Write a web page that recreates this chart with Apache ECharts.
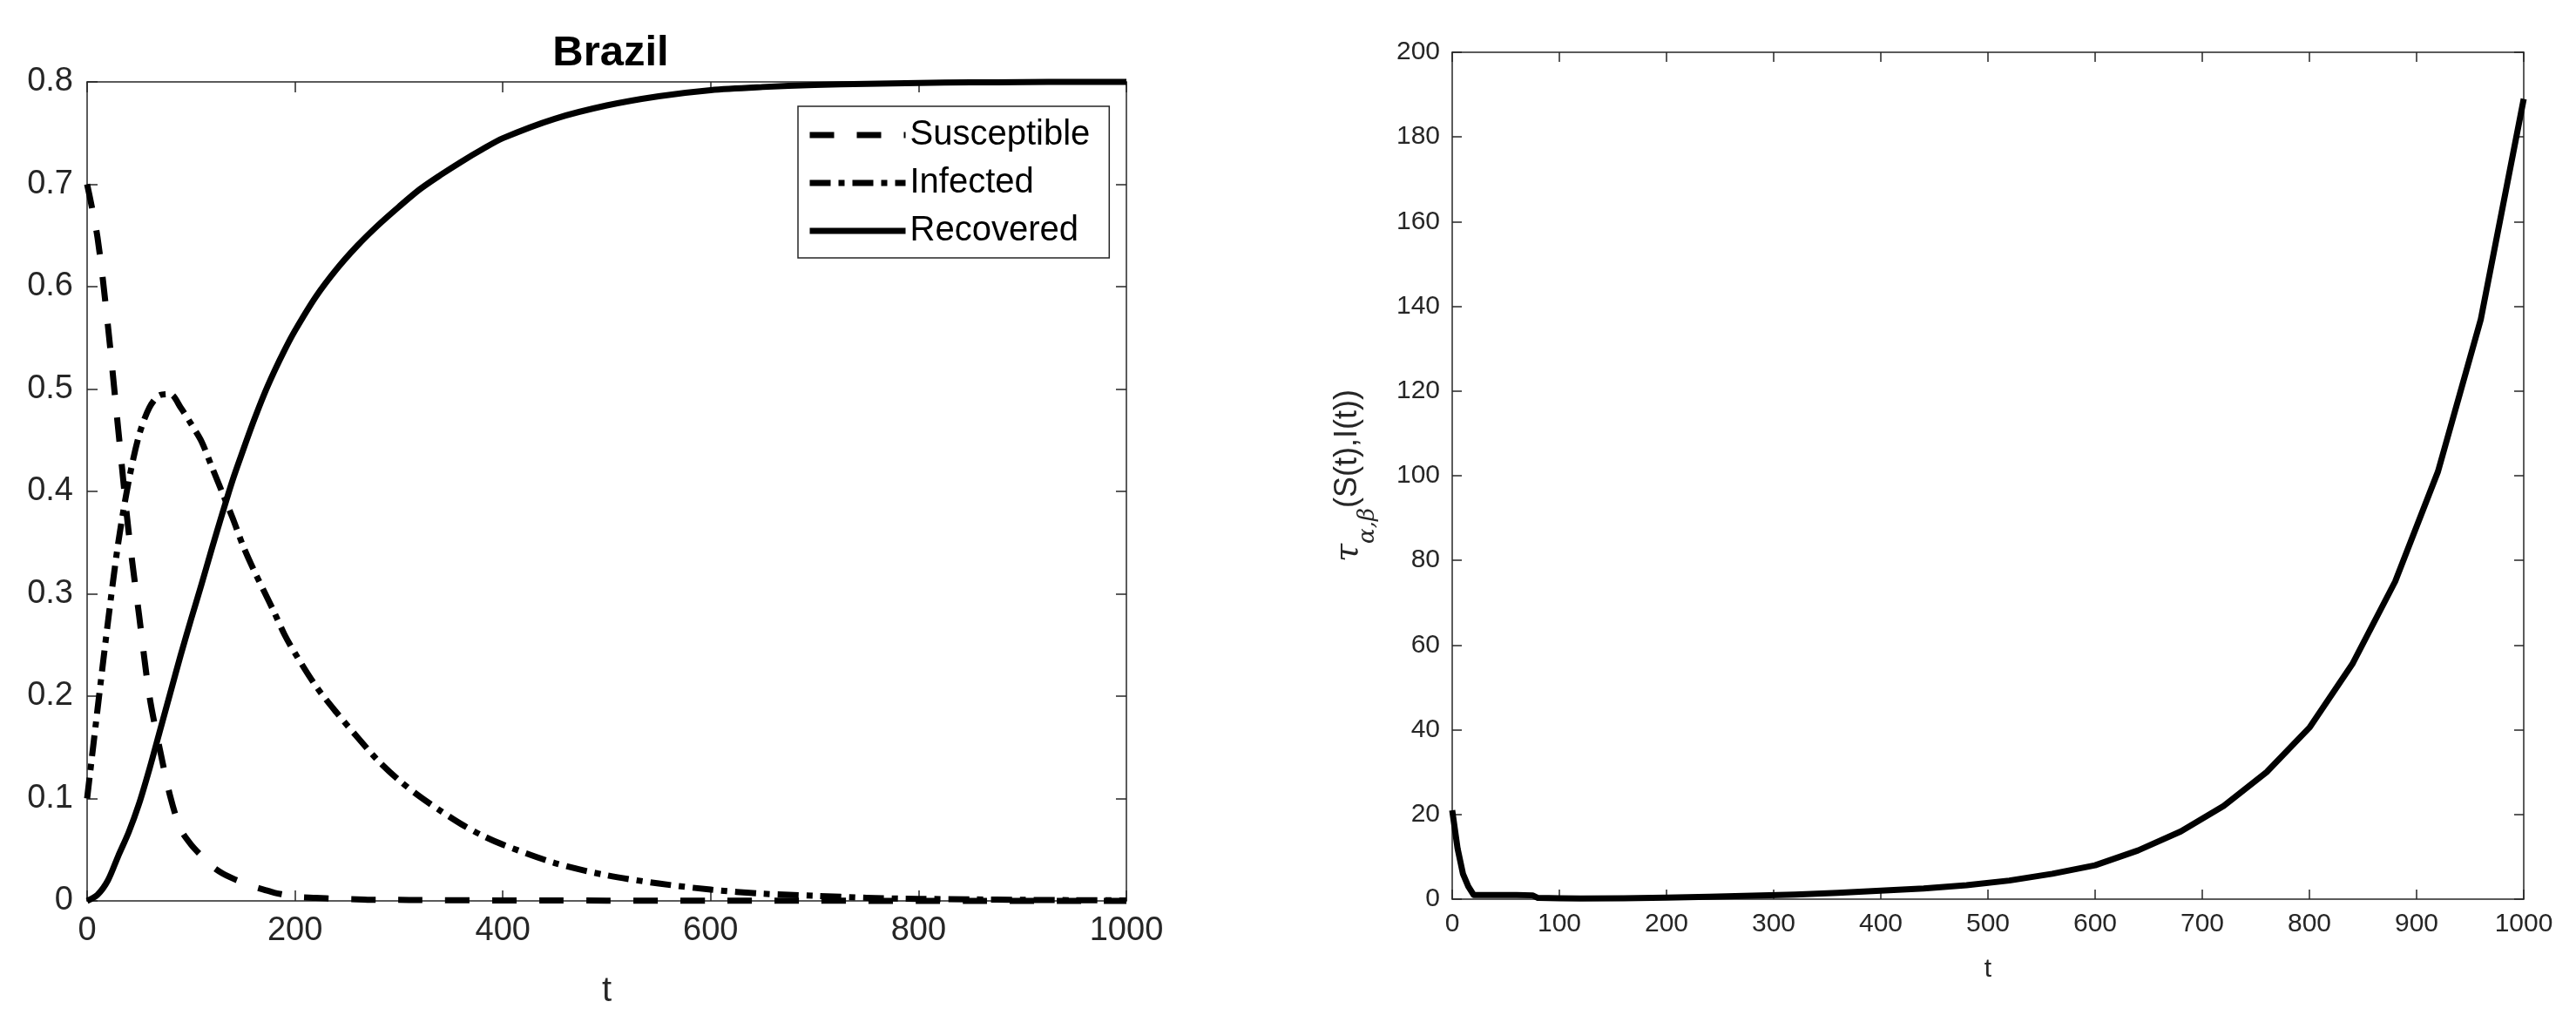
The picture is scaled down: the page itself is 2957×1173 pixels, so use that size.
<!DOCTYPE html>
<html>
<head>
<meta charset="utf-8">
<script src="https://cdn.jsdelivr.net/npm/echarts@6.0.0/dist/echarts.min.js"></script>
<style>
  html, body { margin: 0; padding: 0; background: #fff; }
  #chart { width: 2957px; height: 1173px; }
</style>
</head>
<body>
<div id="chart"></div>
<script>
// left panel: SIR curves for Brazil
const tGrid = [0, 10, 20, 30, 40, 50, 60, 70, 80, 90, 100, 110, 120, 130, 140, 150, 160, 170, 180, 190, 200,
  220, 240, 260, 280, 300, 320, 340, 360, 380, 400, 450, 500, 550, 600, 650, 700, 750, 800, 850, 900, 950, 1000];
const susceptible = [0.700, 0.648, 0.562, 0.460, 0.360, 0.279, 0.200, 0.148, 0.102, 0.070, 0.055, 0.044, 0.034, 0.027, 0.022, 0.018, 0.014, 0.011, 0.008, 0.006, 0.004,
  0.003, 0.002, 0.0015, 0.001, 0.001, 0.0008, 0.0007, 0.0006, 0.0005, 0.0005, 0.0004, 0.0003, 0.0003, 0.0002, 0.0002, 0.0002, 0.0001, 0.0001, 0.0001, 0.0001, 0.0001, 0.0001];
const infected = [0.100, 0.187, 0.272, 0.350, 0.410, 0.455, 0.482, 0.494, 0.495, 0.482, 0.466, 0.449, 0.424, 0.399, 0.374, 0.347, 0.324, 0.303, 0.282, 0.260, 0.242,
  0.210, 0.184, 0.160, 0.137, 0.118, 0.102, 0.088, 0.075, 0.064, 0.055, 0.037, 0.025, 0.017, 0.011, 0.007, 0.005, 0.003, 0.002, 0.0015, 0.001, 0.0007, 0.0005];
const recovered = [0, 0.006, 0.020, 0.044, 0.067, 0.095, 0.129, 0.166, 0.203, 0.240, 0.275, 0.309, 0.344, 0.378, 0.411, 0.440, 0.468, 0.494, 0.517, 0.538, 0.557,
  0.590, 0.617, 0.640, 0.660, 0.678, 0.695, 0.709, 0.722, 0.734, 0.745, 0.764, 0.777, 0.786, 0.792, 0.795, 0.797, 0.798, 0.799, 0.7995, 0.7998, 0.800, 0.800];

// right panel: tau(S(t), I(t))
const tauT = [0, 5, 10, 15, 20, 40, 60, 75, 80, 100, 120, 160, 200, 240, 280, 320, 360, 400, 440, 480, 520, 560,
  600, 640, 680, 720, 760, 800, 840, 880, 920, 960, 1000];
const tauValues = [21, 12, 6, 3, 1.0, 1.0, 1.0, 0.9, 0.3, 0.2, 0.15, 0.2, 0.35, 0.55, 0.8, 1.1, 1.5, 2.0, 2.5, 3.3, 4.4, 6.0,
  8.0, 11.5, 16, 22, 30, 40.5, 55.5, 75, 101, 137, 189];

const FONT = "'Liberation Sans', Arial, Helvetica, sans-serif";
const AXIS_COLOR = '#262626';

const pairs = (xs, ys) => xs.map((x, i) => [x, ys[i]]);

const chart = echarts.init(document.getElementById('chart'), null, { renderer: 'canvas' });

const boxAxis = (grid, pos, min, max, interval, tickLen) => ({
  gridIndex: grid,
  type: 'value',
  position: pos,
  min: min,
  max: max,
  interval: interval,
  axisLine: { show: true, onZero: false, lineStyle: { color: AXIS_COLOR, width: 1.5 } },
  axisTick: { show: true, inside: true, length: tickLen, lineStyle: { color: AXIS_COLOR, width: 1.5 } },
  axisLabel: { show: false },
  splitLine: { show: false }
});

const mainAxis = (grid, pos, min, max, interval, tickLen, fontSize, margin) => {
  const a = boxAxis(grid, pos, min, max, interval, tickLen);
  a.axisLabel = {
    show: true, color: AXIS_COLOR, fontSize: fontSize, fontFamily: FONT, margin: margin,
    formatter: (v) => String(v)
  };
  return a;
};

const xLeft = mainAxis(0, 'bottom', 0, 1000, 200, 12, 38, 16);
xLeft.name = 't';
xLeft.nameLocation = 'middle';
xLeft.nameGap = 84;
xLeft.nameTextStyle = { color: AXIS_COLOR, fontSize: 40, fontFamily: FONT };

const yLeft = mainAxis(0, 'left', 0, 0.8, 0.1, 12, 38, 16);

const xRight = mainAxis(1, 'bottom', 0, 1000, 100, 11, 30, 14);
xRight.name = 't';
xRight.nameLocation = 'middle';
xRight.nameGap = 66;
xRight.nameTextStyle = { color: AXIS_COLOR, fontSize: 30, fontFamily: FONT };

const yRight = mainAxis(1, 'left', 0, 200, 20, 11, 30, 14);
yRight.name = '{tau|τ}{sub|α,β}{n|(S(t),I(t))}';
yRight.nameLocation = 'middle';
yRight.nameRotate = 90;
yRight.nameGap = 84;
yRight.nameTextStyle = {
  color: AXIS_COLOR,
  fontFamily: FONT,
  rich: {
    tau: { fontSize: 38, fontStyle: 'italic', fontFamily: "'DejaVu Serif', serif", color: AXIS_COLOR, lineHeight: 54, verticalAlign: 'top' },
    sub: { fontSize: 26, fontStyle: 'italic', fontFamily: "'DejaVu Serif', serif", color: AXIS_COLOR, lineHeight: 26, verticalAlign: 'bottom' },
    n: { fontSize: 36, fontFamily: FONT, color: AXIS_COLOR, lineHeight: 54, verticalAlign: 'top' }
  }
};

const lineSeries = (name, data, type, xi, yi, smooth) => ({
  name: name,
  type: 'line',
  xAxisIndex: xi,
  yAxisIndex: yi,
  data: data,
  symbol: 'none',
  smooth: smooth,
  clip: false,
  lineStyle: { color: '#000', width: 7, type: type, cap: 'butt', join: 'round' },
  itemStyle: { color: '#000' },
  emphasis: { disabled: true },
  z: 3
});

chart.setOption({
  backgroundColor: '#fff',
  animation: false,
  title: {
    text: 'Brazil',
    left: 696,
    textAlign: 'center',
    top: 32,
    textStyle: { color: '#000', fontSize: 49, fontWeight: 'bold', fontFamily: FONT }
  },
  legend: {
    orient: 'vertical',
    left: 916,
    top: 122,
    data: ['Susceptible', 'Infected', 'Recovered'],
    itemWidth: 110,
    itemHeight: 40,
    itemGap: 15,
    padding: [13, 22, 11, 10],
    borderColor: AXIS_COLOR,
    borderWidth: 1.5,
    backgroundColor: '#fff',
    itemStyle: { opacity: 0 },
    lineStyle: { width: 7 },
    textStyle: { color: '#000', fontSize: 40, fontFamily: FONT },
    selectedMode: false
  },
  grid: [
    { left: 100, top: 94, width: 1193, height: 940 },
    { left: 1667, top: 60, width: 1230, height: 972 }
  ],
  xAxis: [
    xLeft,
    boxAxis(0, 'top', 0, 1000, 200, 12),
    xRight,
    boxAxis(1, 'top', 0, 1000, 100, 11)
  ],
  yAxis: [
    yLeft,
    boxAxis(0, 'right', 0, 0.8, 0.1, 12),
    yRight,
    boxAxis(1, 'right', 0, 200, 20, 11)
  ],
  series: [
    lineSeries('Susceptible', pairs(tGrid, susceptible), [28, 26], 0, 0, 0.3),
    lineSeries('Infected', pairs(tGrid, infected), [24, 9, 7, 9], 0, 0, 0.3),
    lineSeries('Recovered', pairs(tGrid, recovered), 'solid', 0, 0, 0.3),
    lineSeries('tau', pairs(tauT, tauValues), 'solid', 2, 2, false)
  ]
});
</script>
</body>
</html>
